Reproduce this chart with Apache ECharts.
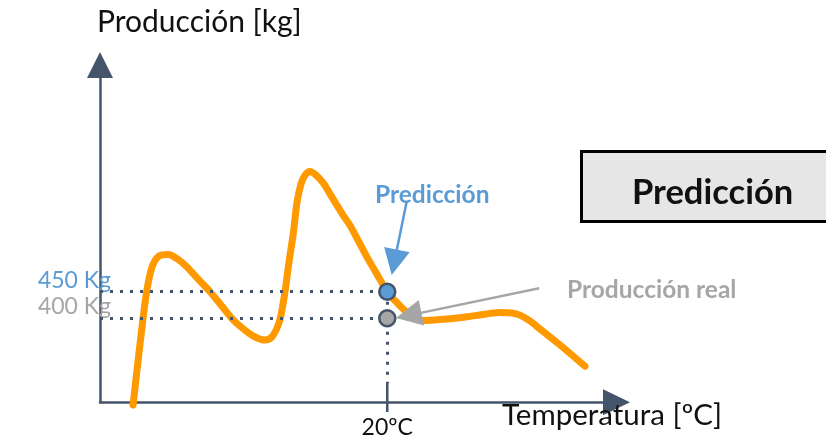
<!DOCTYPE html>
<html>
<head>
<meta charset="utf-8">
<script src="https://cdn.jsdelivr.net/npm/echarts@6/dist/echarts.min.js"></script>
<style>html,body{margin:0;padding:0;background:#fff}#c{width:826px;height:443px}</style>
</head>
<body>
<div id="c"></div>
<script>
// ---- data ----
const curveTemp = [2.30, 2.58, 2.90, 3.25, 3.62, 4.11, 4.76, 5.36, 6.04, 6.82, 7.66, 8.42, 9.17, 9.89, 10.65, 11.49, 11.97, 12.39, 12.60, 12.88, 13.16, 13.46, 13.71, 13.99, 14.27, 14.62, 15.04, 15.55, 16.01, 16.48, 16.92, 17.40, 17.96, 18.57, 19.28, 20.00, 20.54, 21.09, 21.72, 22.28, 23.32, 24.37, 26.11, 27.85, 28.68, 29.24, 29.93, 30.63, 32.02, 33.76];
const curveProd = [237, 303, 378, 450, 496, 517, 520, 512, 497, 474, 450, 425, 400, 382, 367, 359, 365, 386, 406, 450, 506, 560, 617, 652, 669, 676, 669, 654, 634, 613, 594, 575, 547, 516, 483, 450, 433, 418, 404, 396, 397, 399, 405, 411, 410, 406, 395, 380, 350, 310];
const refTemp = 20;
const predictedProd = 450;
const realProd = 400;
const xTickValues = [20];
const yTickValues = [400, 450];
const xRange = [0, 35.96];
const yRange = [242.1, 876.1];
const tickSpan = [278.4, 223.9];
// annotation arrows: [start, end] in data units
const predArrow = [[21.35, 619.2], [20.49, 505.3]];
const realArrow = [[30.58, 456.4], [21.49, 405.5]];

const AX = '#44546A', ORANGE = '#FF9900', BLUE = '#5B9BD5', GRAY = '#A6A6A6';
const FONT = 'Lato';

const chart = echarts.init(document.getElementById('c'), null, {renderer: 'canvas'});
const option = {
  animation: false,
  backgroundColor: '#fff',
  graphic: [
    {type: 'rect', z: 0, silent: true,
     shape: {x: 581.5, y: 151.5, width: 270, height: 70},
     style: {fill: '#E7E6E6', stroke: '#000', lineWidth: 3}}
  ],
  title: [
    {text: 'Producción [kg]', left: 97, top: 7, padding: 0,
     textStyle: {fontFamily: FONT, fontSize: 30, fontWeight: 'normal', color: '#111'}},
    {text: 'Temperatura [ºC]', left: 502, top: 400, padding: 0,
     textStyle: {fontFamily: FONT, fontSize: 29.5, fontWeight: 'normal', color: '#111'}},
    {text: 'Predicción', left: 632, top: 175, padding: 0, z: 10,
     textStyle: {fontFamily: FONT, fontSize: 34.5, fontWeight: 'bold', color: '#111'}},
    {text: 'Predicción', left: 375, top: 183, padding: 0,
     textStyle: {fontFamily: FONT, fontSize: 24.5, fontWeight: 'bold', color: BLUE}},
    {text: 'Producción real', left: 567, top: 278, padding: 0,
     textStyle: {fontFamily: FONT, fontSize: 24.5, fontWeight: 'bold', color: GRAY}}
  ],
  grid: {left: 100, right: 209.5, top: 65, bottom: 40.7, containLabel: false},
  xAxis: {
    type: 'value', min: xRange[0], max: xRange[1],
    splitLine: {show: false},
    axisLine: {onZero: false, lineStyle: {color: AX, width: 2.5}, symbol: ['none', 'triangle'], symbolSize: [26, 27]},
    axisTick: {show: false},
    axisLabel: {customValues: xTickValues, formatter: v => v + 'ºC', margin: 14,
      fontFamily: FONT, fontSize: 23, color: '#111'}
  },
  yAxis: {
    type: 'value', min: yRange[0], max: yRange[1],
    splitLine: {show: false},
    axisLine: {onZero: false, lineStyle: {color: AX, width: 2.5}, symbol: ['none', 'triangle'], symbolSize: [26, 26]},
    axisTick: {show: false},
    axisLabel: {customValues: yTickValues, margin: -11, verticalAlign: 'bottom',
      formatter: v => (v === predictedProd ? '{b|' : '{g|') + v + ' Kg}',
      rich: {b: {color: BLUE, fontFamily: FONT, fontSize: 23}, g: {color: GRAY, fontFamily: FONT, fontSize: 23}}}
  },
  series: [
    {
      type: 'line', name: 'curve', smooth: 0.3, clip: false, symbol: 'none', z: 2,
      lineStyle: {color: ORANGE, width: 7, cap: 'round', join: 'round'},
      data: curveTemp.map((t, i) => [t, curveProd[i]])
    },
    {
      type: 'line', name: 'guides', data: [], z: 3,
      markLine: {
        silent: true, symbol: ['none', 'none'], animation: false, label: {show: false},
        lineStyle: {color: AX, width: 3, type: [3, 7], cap: 'butt'},
        data: [
          [{coord: [xRange[0], predictedProd]}, {coord: [refTemp, predictedProd]}],
          [{coord: [xRange[0], realProd]}, {coord: [refTemp, realProd]}],
          [{coord: [refTemp, predictedProd]}, {coord: [refTemp, tickSpan[0]]}]
        ]
      }
    },
    {
      type: 'line', name: 'tick', clip: false, symbol: 'none', z: 3,
      lineStyle: {color: AX, width: 2.5},
      data: [[refTemp, tickSpan[0]], [refTemp, tickSpan[1]]]
    },
    {
      type: 'line', name: 'arrows', data: [], z: 4,
      markLine: {
        silent: true, animation: false, label: {show: false}, symbol: ['none', 'triangle'], symbolSize: 26,
        data: [
          [{coord: predArrow[0], lineStyle: {color: BLUE, width: 2.5, type: 'solid'}},
           {coord: predArrow[1], itemStyle: {color: BLUE}}],
          [{coord: realArrow[0], lineStyle: {color: GRAY, width: 2.5, type: 'solid'}},
           {coord: realArrow[1], itemStyle: {color: GRAY}}]
        ]
      }
    },
    {
      type: 'scatter', name: 'points', z: 5, symbolSize: 16,
      itemStyle: {borderColor: AX, borderWidth: 2.5, opacity: 1},
      data: [
        {value: [refTemp, predictedProd], itemStyle: {color: BLUE}},
        {value: [refTemp, realProd], itemStyle: {color: GRAY}}
      ]
    }
  ]
};
chart.setOption(option);
</script>
</body>
</html>
